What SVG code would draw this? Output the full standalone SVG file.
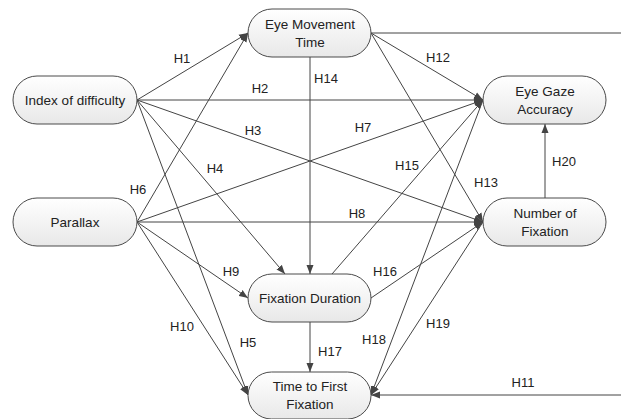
<svg xmlns="http://www.w3.org/2000/svg" width="621" height="419" viewBox="0 0 621 419">
<style>
.node rect{fill:url(#g);stroke:#4a4a4a;stroke-width:1}
text{font-family:"Liberation Sans",Arial,sans-serif;font-size:13px;fill:#222;text-anchor:middle}
.node text{font-size:13.5px}
.e{fill:none;stroke:#444;stroke-width:1;marker-end:url(#a)}
</style>
<defs>
<linearGradient id="g" x1="0" y1="0" x2="0" y2="1">
<stop offset="0" stop-color="#ffffff"/>
<stop offset="1" stop-color="#e8e8e8"/>
</linearGradient>
<marker id="a" markerUnits="userSpaceOnUse" markerWidth="10" markerHeight="8" refX="9" refY="4" orient="auto">
<path d="M0,0.5 L9,4 L0,7.5 z" fill="#444"/>
</marker>
</defs>
<rect width="621" height="419" fill="#fff"/>
<g id="connectors">
<path class="e" d="M137,100 L248,33"/>
<path class="e" d="M137,100 L483,100"/>
<path class="e" d="M137,100 L483,222"/>
<path class="e" d="M137,100 L285,274"/>
<path class="e" d="M137,100 L248,395"/>
<path class="e" d="M137,222 L248,33"/>
<path class="e" d="M137,222 L483,100"/>
<path class="e" d="M137,222 L483,222"/>
<path class="e" d="M137,222 L248,298"/>
<path class="e" d="M137,222 L248,395"/>
<path class="e" d="M371,33 L630,33 L630,395 L371,395"/>
<path class="e" d="M371,33 L483,100"/>
<path class="e" d="M371,33 L483,222"/>
<path class="e" d="M310,57 L310,274"/>
<path class="e" d="M332,274 L483,100"/>
<path class="e" d="M371,298 L483,222"/>
<path class="e" d="M310,322 L310,372"/>
<path class="e" d="M483,100 L371,395"/>
<path class="e" d="M483,222 L371,395"/>
<path class="e" d="M545,198 L545,124"/>
</g>
<g id="labels">
<text x="182" y="63">H1</text>
<text x="260" y="93">H2</text>
<text x="253" y="135">H3</text>
<text x="215" y="173">H4</text>
<text x="248" y="347">H5</text>
<text x="138" y="194">H6</text>
<text x="363" y="132">H7</text>
<text x="357" y="218">H8</text>
<text x="231" y="276">H9</text>
<text x="182" y="331">H10</text>
<text x="523" y="387">H11</text>
<text x="438" y="62">H12</text>
<text x="486" y="187">H13</text>
<text x="326" y="83">H14</text>
<text x="407" y="170">H15</text>
<text x="385" y="276">H16</text>
<text x="330" y="356">H17</text>
<text x="374" y="344">H18</text>
<text x="438" y="328">H19</text>
<text x="564" y="166">H20</text>
</g>
<g id="eye-movement-time" class="node">
<rect x="248" y="9" width="123" height="48" rx="24"/>
<text x="310" y="29">Eye Movement</text>
<text x="310" y="47">Time</text>
</g>
<g id="index-of-difficulty" class="node">
<rect x="13" y="76" width="124" height="48" rx="24"/>
<text x="75" y="105">Index of difficulty</text>
</g>
<g id="parallax" class="node">
<rect x="13" y="198" width="124" height="48" rx="24"/>
<text x="75" y="227">Parallax</text>
</g>
<g id="eye-gaze-accuracy" class="node">
<rect x="483" y="76" width="123" height="48" rx="24"/>
<text x="545" y="96">Eye Gaze</text>
<text x="545" y="114">Accuracy</text>
</g>
<g id="number-of-fixation" class="node">
<rect x="483" y="198" width="123" height="48" rx="24"/>
<text x="545" y="218">Number of</text>
<text x="545" y="236">Fixation</text>
</g>
<g id="fixation-duration" class="node">
<rect x="248" y="274" width="123" height="48" rx="24"/>
<text x="310" y="303">Fixation Duration</text>
</g>
<g id="time-to-first-fixation" class="node">
<rect x="248" y="372" width="123" height="47" rx="23.5"/>
<text x="310" y="391">Time to First</text>
<text x="310" y="409">Fixation</text>
</g>
</svg>
